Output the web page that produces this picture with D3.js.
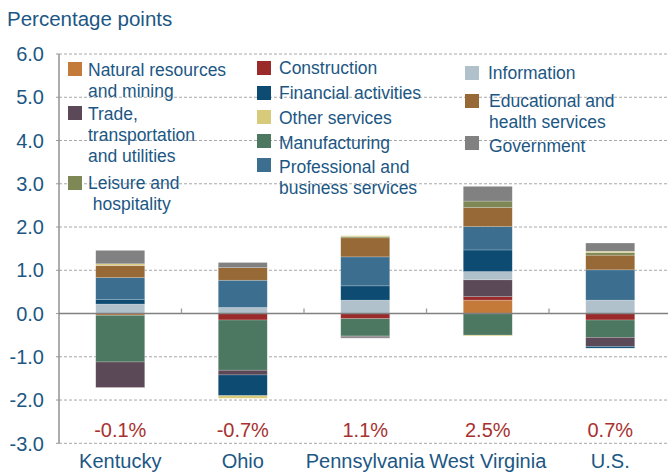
<!DOCTYPE html>
<html>
<head>
<meta charset="utf-8">
<script src="https://cdn.jsdelivr.net/npm/d3@7"></script>
<style>
  body { margin: 0; background: #fff; }
  svg { font-family: "Liberation Sans", Arial, sans-serif; }
</style>
</head>
<body>
<svg></svg>
<script>
var width = 668;
var height = 474;

// data
var categories = ["Kentucky", "Ohio", "Pennsylvania", "West Virginia", "U.S."];
var totals = [-0.1, -0.7, 1.1, 2.5, 0.7];
var yTicks = [-3, -2, -1, 0, 1, 2, 3, 4, 5, 6];

var sectors = ["natural", "construction", "manufacturing", "trade", "information",
               "financial", "professional", "educational", "leisure", "other", "government"];

var natural       = [-0.04,  0.00,  0.00,  0.31,  0.00];
var construction  = [ 0.00, -0.15, -0.12,  0.08, -0.15];
var manufacturing = [-1.08, -1.16, -0.40, -0.50, -0.40];
var trade         = [-0.59, -0.11, -0.02,  0.39, -0.21];
var information   = [ 0.22,  0.14,  0.31,  0.19,  0.31];
var financial     = [ 0.11, -0.48,  0.33,  0.50, -0.04];
var professional  = [ 0.50,  0.63,  0.67,  0.54,  0.70];
var educational   = [ 0.28,  0.29,  0.44,  0.44,  0.34];
var leisure       = [ 0.00,  0.00,  0.03,  0.15,  0.06];
var other         = [ 0.04, -0.06,  0.02, -0.02,  0.03];
var government    = [ 0.31,  0.12, -0.03,  0.34,  0.19];

var seriesValues = {
  natural: natural, construction: construction, manufacturing: manufacturing,
  trade: trade, information: information, financial: financial,
  professional: professional, educational: educational, leisure: leisure,
  other: other, government: government
};

var colors = {
  natural: "#c47a38", construction: "#9b2a2a", manufacturing: "#4c7862",
  trade: "#5c4957", information: "#b1c1cb", financial: "#0d4b72",
  professional: "#3c6e8f", educational: "#976936", leisure: "#7e8856",
  other: "#d7cb7b", government: "#818181"
};

var textBlue = "#1c5784";

// plain hyphen instead of the unicode minus
var fmt = function (v) { return d3.format(".1f")(v).replace("\u2212", "-"); };

var rows = categories.map(function (c, i) {
  var r = { cat: c };
  sectors.forEach(function (s) { r[s] = seriesValues[s][i]; });
  return r;
});

var svg = d3.select("svg").attr("width", width).attr("height", height);

var x = d3.scaleBand().domain(categories).range([59, 671.5])
  .paddingInner(0.6).paddingOuter(0.3);
var y = d3.scaleLinear().domain([-3, 6]).range([443.3, 54]);

// grid
svg.append("g").selectAll("line")
  .data(yTicks.filter(function (d) { return d !== 0; }))
  .enter().append("line")
    .attr("x1", 59).attr("x2", width)
    .attr("y1", function (d) { return y(d); })
    .attr("y2", function (d) { return y(d); })
    .attr("stroke", "#a8a8a8")
    .attr("stroke-width", 1)
    .attr("stroke-dasharray", "3,2");

// y labels
svg.append("g").selectAll("text")
  .data(yTicks)
  .enter().append("text")
    .attr("x", 44)
    .attr("y", function (d) { return y(d); })
    .attr("dy", "0.36em")
    .attr("text-anchor", "end")
    .attr("fill", textBlue)
    .style("font-size", "20px")
    .text(fmt);

// left axis line + small ticks
svg.append("line")
  .attr("x1", 59).attr("x2", 59)
  .attr("y1", y(6)).attr("y2", y(-3))
  .attr("stroke", "#808080").attr("stroke-width", 1.3);
svg.append("g").selectAll("line")
  .data(yTicks)
  .enter().append("line")
    .attr("x1", 56).attr("x2", 59)
    .attr("y1", function (d) { return y(d); })
    .attr("y2", function (d) { return y(d); })
    .attr("stroke", "#9a9a9a");

// bars
var stack = d3.stack().keys(sectors).offset(d3.stackOffsetDiverging);
var layers = stack(rows);

svg.append("g").selectAll("g")
  .data(layers)
  .enter().append("g")
    .attr("fill", function (d) { return colors[d.key]; })
  .selectAll("rect")
  .data(function (d) { return d; })
  .enter().append("rect")
    .attr("x", function (d) { return x(d.data.cat); })
    .attr("width", x.bandwidth())
    .attr("y", function (d) { return y(Math.max(d[0], d[1])); })
    .attr("height", function (d) { return Math.abs(y(d[0]) - y(d[1])); })
    .attr("stroke", "#ffffff")
    .attr("stroke-opacity", 0.35)
    .attr("stroke-width", 0.6);

// zero line
svg.append("line")
  .attr("x1", 59).attr("x2", width)
  .attr("y1", y(0)).attr("y2", y(0))
  .attr("stroke", "#808080").attr("stroke-width", 1.6);
svg.append("g").selectAll("line")
  .data(categories.slice(1))
  .enter().append("line")
    .attr("x1", function (d) { return x(d) - x.step() * x.paddingInner() / 2; })
    .attr("x2", function (d) { return x(d) - x.step() * x.paddingInner() / 2; })
    .attr("y1", y(0)).attr("y2", y(0) - 5)
    .attr("stroke", "#9a9a9a").attr("stroke-width", 1.3);

// totals
svg.append("g").selectAll("text")
  .data(totals)
  .enter().append("text")
    .attr("x", function (d, i) { return x(categories[i]) + x.bandwidth() / 2; })
    .attr("y", 437)
    .attr("text-anchor", "middle")
    .attr("fill", "#a8312f")
    .style("font-size", "20px")
    .text(function (d) { return fmt(d) + "%"; });

// category labels
svg.append("g").selectAll("text")
  .data(categories)
  .enter().append("text")
    .attr("x", function (d) { return x(d) + x.bandwidth() / 2; })
    .attr("y", 468)
    .attr("text-anchor", "middle")
    .attr("fill", textBlue)
    .style("font-size", "20px")
    .text(function (d) { return d; });

// title
svg.append("text")
  .attr("x", 7).attr("y", 26)
  .attr("fill", textBlue)
  .style("font-size", "20.5px")
  .text("Percentage points");

// legend
var legend = [
  { key: "natural", sx: 68, sy: 62, tx: 88, lines: ["Natural resources", "and mining"], by: 76 },
  { key: "trade", sx: 68, sy: 106, tx: 88, lines: ["Trade,", "transportation", "and utilities"], by: 120 },
  { key: "leisure", sx: 68, sy: 176, tx: 88, lines: ["Leisure and", "\u00a0hospitality"], by: 189 },
  { key: "construction", sx: 257, sy: 61, tx: 279, lines: ["Construction"], by: 74 },
  { key: "financial", sx: 257, sy: 86, tx: 279, lines: ["Financial activities"], by: 99 },
  { key: "other", sx: 257, sy: 110, tx: 279, lines: ["Other services"], by: 124 },
  { key: "manufacturing", sx: 257, sy: 134, tx: 279, lines: ["Manufacturing"], by: 149 },
  { key: "professional", sx: 257, sy: 158, tx: 279, lines: ["Professional and", "business services"], by: 173 },
  { key: "information", sx: 465, sy: 66, tx: 488, lines: ["Information"], by: 79 },
  { key: "educational", sx: 465, sy: 94, tx: 489, lines: ["Educational and", "health services"], by: 107 },
  { key: "government", sx: 465, sy: 136, tx: 489, lines: ["Government"], by: 152 }
];

var lg = svg.append("g").selectAll("g")
  .data(legend)
  .enter().append("g");

lg.append("rect")
  .attr("x", function (d) { return d.sx; })
  .attr("y", function (d) { return d.sy; })
  .attr("width", 14).attr("height", 14)
  .attr("fill", function (d) { return colors[d.key]; });

lg.append("text")
  .attr("fill", textBlue)
  .style("font-size", "17.5px")
  .selectAll("tspan")
  .data(function (d) { return d.lines.map(function (l, i) { return { t: l, x: d.tx, y: d.by + i * 21 }; }); })
  .enter().append("tspan")
    .attr("x", function (d) { return d.x; })
    .attr("y", function (d) { return d.y; })
    .text(function (d) { return d.t; });
</script>
</body>
</html>
